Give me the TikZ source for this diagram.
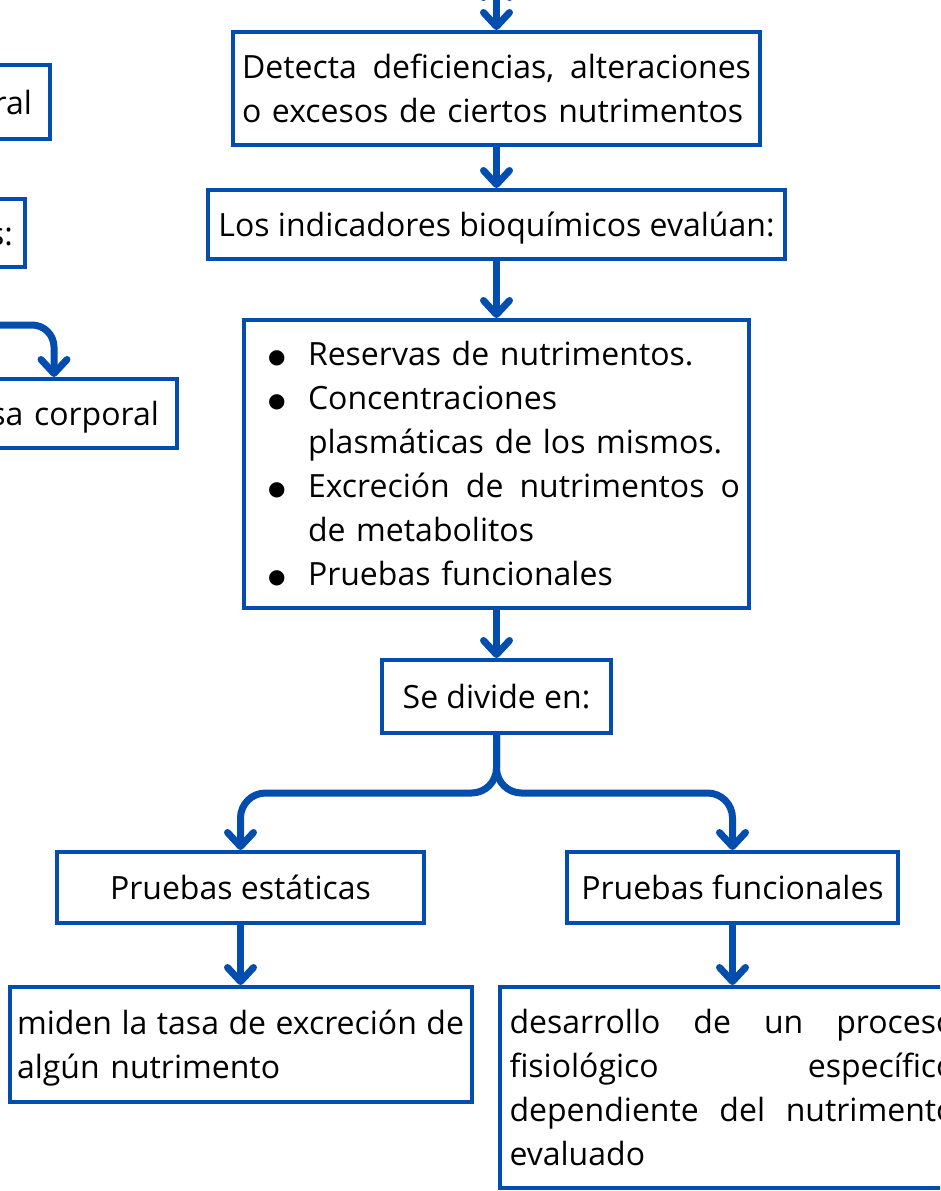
\documentclass[tikz,border=0pt]{standalone}
\usepackage{fontspec}
\setmainfont{Open Sans}
\newfontfamily\dejavu{DejaVu Sans}
\usetikzlibrary{positioning}
\usetikzlibrary{arrows.meta}
\definecolor{azul}{RGB}{3,77,175}
\newcommand{\bul}{\hspace*{15pt}\makebox[40pt][l]{\raisebox{2pt}{\dejavu\fontsize{20}{0}\selectfont ●}}}
\newcommand{\ind}{\hspace*{55pt}}
\newcommand{\jline}[2]{\leavevmode\hbox to #1{#2}}
\begin{document}
\begin{tikzpicture}[x=1pt, y=1pt, >={Straight Barb[length=14pt, width=26pt, line cap=round, line join=round]},
  caja/.style={rectangle, draw=azul, line width=4pt, inner sep=0pt, font=\fontsize{32}{44}\selectfont},
  linea/.style={text height=24pt, text depth=0pt},
  flecha/.style={->, draw=azul, line width=7pt, line cap=round}]

  \useasboundingbox (0,0) rectangle (940,-1191);
  \clip (0,0) rectangle (940,-1191);

  % columna central
  \node[caja, minimum width=527pt, minimum height=113pt, text width=509pt, align=left] (detecta) at (496.5,-88.5) {\jline{509pt}{Detecta\hfill deficiencias,\hfill alteraciones}\\o excesos de ciertos nutrimentos};
  \node[caja, linea, minimum width=577pt, minimum height=69pt] (indicadores) [below=41pt of detecta] {Los indicadores bioquímicos evalúan:};
  \node[caja, minimum width=505pt, minimum height=288pt, text width=487pt, align=left] (reservas) [below=57pt of indicadores] {\bul Reservas de nutrimentos.\\\bul Concentraciones\\\ind plasmáticas de los mismos.\\\bul\jline{432pt}{Excreción\hfill de\hfill nutrimentos\hfill o}\\\ind de metabolitos\\\bul Pruebas funcionales};
  \node[caja, linea, minimum width=229pt, minimum height=73pt] (divide) [below=48pt of reservas] {Se divide en:};
  \node[caja, linea, minimum width=367pt, minimum height=71pt] (estaticas) [below=115pt of divide, xshift=-256pt] {Pruebas estáticas};
  \node[caja, linea, minimum width=331pt, minimum height=71pt] (funcionales) [below=115pt of divide, xshift=236pt] {Pruebas funcionales};
  \node[caja, minimum width=462pt, minimum height=115pt, text width=447pt, text depth=44pt, align=left] (tasa) [below=60pt of estaticas] {\jline{447pt}{miden\hfill la\hfill tasa\hfill de\hfill excreción\hfill de}\\algún nutrimento};
  \node[caja, minimum width=466pt, minimum height=201pt, text width=446pt, align=left] (proceso) [below=60pt of funcionales] {\jline{446pt}{desarrollo\hfill de\hfill un\hfill proceso}\\\jline{446pt}{fisiológico\hfill específico}\\\jline{446pt}{dependiente\hfill del\hfill nutrimento}\\evaluado};

  % columna izquierda (cortada)
  \node[caja, linea, anchor=east, minimum height=74pt, text width=200pt, align=right, inner xsep=18pt] (masa) at (52,-102) {ral};
  \node[caja, linea, anchor=east, minimum height=68pt, text width=200pt, align=right, inner xsep=12pt] (medidas) at (27,-233) {s:};
  \node[caja, linea, anchor=east, minimum height=69pt, text width=250pt, align=right, inner xsep=18pt] (corporal) at (179,-413.5) {sa corporal};

  \coordinate[above=50pt of detecta] (entrada);
  \coordinate[below=58pt of divide] (rama);
  \coordinate (lateral) at ([shift={(-250,52)}]corporal.north east);

  \path[flecha]
    (entrada) edge (detecta)
    (detecta) edge (indicadores)
    (indicadores) edge (reservas)
    (reservas) edge (divide)
    (estaticas) edge (tasa)
    (funcionales) edge (proceso)
  ;
  \draw[flecha, rounded corners=25pt] (divide) -- (rama) -| (estaticas);
  \draw[flecha, rounded corners=25pt] (divide) -- (rama) -| (funcionales);
  \draw[flecha, rounded corners=22pt] (lateral) -| ([xshift=-125pt]corporal.north east);
\end{tikzpicture}
\end{document}
